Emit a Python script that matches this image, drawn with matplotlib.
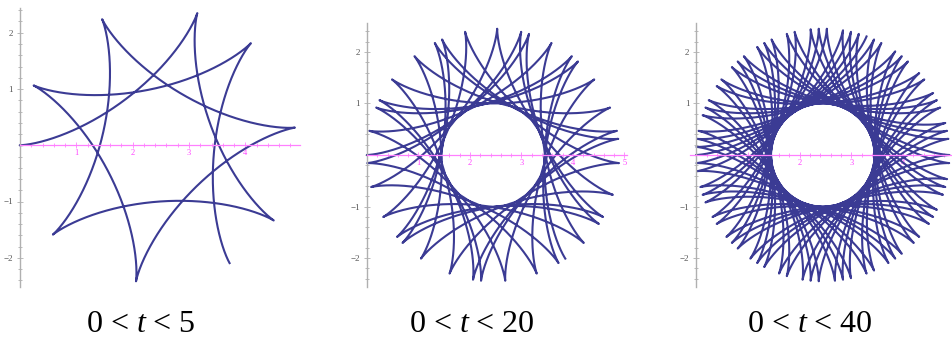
import numpy as np
import matplotlib
matplotlib.use("Agg")
import matplotlib.pyplot as plt
from matplotlib.ticker import MultipleLocator, FixedLocator

plt.rcParams['mathtext.fontset'] = 'custom'
plt.rcParams['mathtext.rm'] = 'Liberation Serif'
plt.rcParams['mathtext.it'] = 'Liberation Serif:italic'

# --- data ---
t_max = [5, 20, 40]
captions = ['0 < $t$ < 5', '0 < $t$ < 20', '0 < $t$ < 40']
x_tick_labels = [[1, 2, 3, 4], [1, 2, 3, 4, 5], [1, 2, 3, 4]]
y_tick_labels = [-2, -1, 1, 2]
# hypocycloid parameters
center_x = 2.45
big_r = 1.725
small_r = 0.725
cusps_per_unit_t = 9 / 5

# --- layout (pixel based) ---
W, H = 952, 340
fig = plt.figure(figsize=(W / 100, H / 100), dpi=100)

panels = [
    dict(left=20, right=300, top=8, bottom=287, xlim=(0, 4.97), ylim=(-2.52, 2.44)),
    dict(left=367, right=627, top=23, bottom=287, xlim=(0, 5.05), ylim=(-2.56, 2.56)),
    dict(left=690, right=952, top=23, bottom=287, xlim=(-0.12, 4.95), ylim=(-2.56, 2.56)),
]
cap_x = [141, 472, 810]

line_color = '#3b3b94'
axis_pink = '#ff80ff'

w_sum = 2 * np.pi * cusps_per_unit_t
w1 = w_sum * small_r / (big_r + small_r)
w2 = w_sum * big_r / (big_r + small_r)

for i, p in enumerate(panels):
    ax = fig.add_axes([p['left'] / W, 1 - p['bottom'] / H,
                       (p['right'] - p['left']) / W, (p['bottom'] - p['top']) / H])
    ax.set_xlim(*p['xlim'])
    ax.set_ylim(*p['ylim'])
    ax.patch.set_alpha(0)
    t = np.linspace(0, t_max[i], 6000 * t_max[i] // 5 + 2000)
    x = center_x - big_r * np.cos(w1 * t) - small_r * np.cos(w2 * t)
    y = big_r * np.sin(w1 * t) - small_r * np.sin(w2 * t)
    ax.plot(x, y, color=line_color, lw=1.5, clip_on=False, solid_joinstyle='round')

    for s in ['top', 'right']:
        ax.spines[s].set_visible(False)
    ax.spines['left'].set_position(('data', 0))
    ax.spines['left'].set_color('#b0b0b0')
    ax.spines['left'].set_linewidth(1.0)
    ax.spines['bottom'].set_position(('data', 0))
    ax.spines['bottom'].set_color(axis_pink)
    ax.spines['bottom'].set_linewidth(0.9)

    ax.xaxis.set_major_locator(FixedLocator(x_tick_labels[i]))
    ax.xaxis.set_minor_locator(MultipleLocator(0.2))
    ax.yaxis.set_major_locator(FixedLocator(y_tick_labels))
    ax.yaxis.set_minor_locator(MultipleLocator(0.2))
    ax.set_xticklabels([str(v) for v in x_tick_labels[i]])
    ax.set_yticklabels([str(v).replace('-', '\u2212') for v in y_tick_labels])
    ax.tick_params(axis='x', which='both', direction='inout', colors=axis_pink,
                   labelcolor='#ff40ff', width=0.6)
    ax.tick_params(axis='x', which='major', length=4, labelsize=6, pad=1)
    ax.tick_params(axis='x', which='minor', length=2.5)
    ax.tick_params(axis='y', which='both', direction='inout', colors='#b0b0b0',
                   labelcolor='#555555', width=0.6)
    ax.tick_params(axis='y', which='major', length=4, labelsize=6.5, pad=3)
    ax.tick_params(axis='y', which='minor', length=2.5)
    for lab in ax.get_xticklabels() + ax.get_yticklabels():
        lab.set_family('Liberation Serif')

    fig.text(cap_x[i] / W, 1 - 332 / H, captions[i], ha='center', va='baseline',
             fontsize=23, color='black', family='Liberation Serif')

fig.savefig('out.png', dpi=100)
